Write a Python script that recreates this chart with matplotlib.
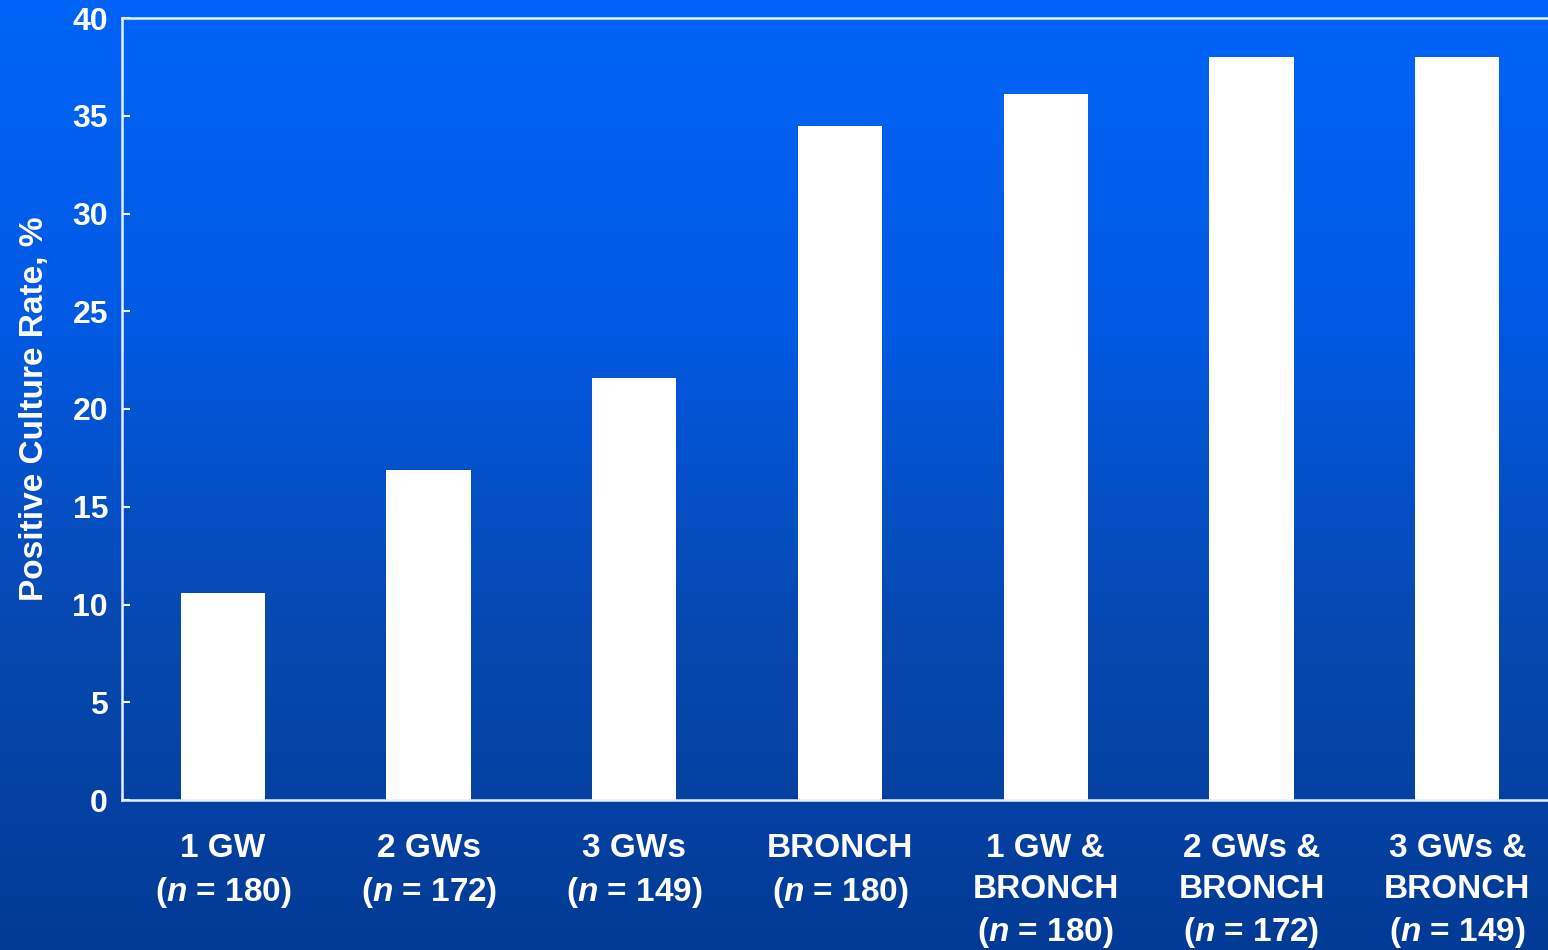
import matplotlib
matplotlib.use("Agg")
import matplotlib.pyplot as plt
import numpy as np
from matplotlib.colors import LinearSegmentedColormap

plt.rcParams['font.family'] = ['Liberation Sans', 'DejaVu Sans']
plt.rcParams['mathtext.fontset'] = 'custom'
plt.rcParams['mathtext.rm'] = 'Liberation Sans:bold'
plt.rcParams['mathtext.it'] = 'Liberation Sans:italic:bold'

groups = ["1 GW\n($\\mathit{n}$ = 180)",
          "2 GWs\n($\\mathit{n}$ = 172)",
          "3 GWs\n($\\mathit{n}$ = 149)",
          "BRONCH\n($\\mathit{n}$ = 180)",
          "1 GW &\nBRONCH\n($\\mathit{n}$ = 180)",
          "2 GWs &\nBRONCH\n($\\mathit{n}$ = 172)",
          "3 GWs &\nBRONCH\n($\\mathit{n}$ = 149)"]
rates = [10.6, 16.9, 21.6, 34.5, 36.1, 38.0, 38.0]
yticks = [0, 5, 10, 15, 20, 25, 30, 35, 40]

fig = plt.figure(figsize=(15.48, 9.5), dpi=100)

# blue gradient background
bg = fig.add_axes([0, 0, 1, 1])
cmap = LinearSegmentedColormap.from_list(
    "bgblue", ["#0064F8", "#005AE4", "#0748B0", "#023B96"])
grad = np.linspace(0, 1, 256).reshape(-1, 1)
bg.imshow(grad, aspect='auto', cmap=cmap, extent=[0, 1, 1, 0])
bg.axis('off')

ax = fig.add_axes([122 / 1548, 150 / 950, 1436 / 1548, 782 / 950])
ax.set_facecolor('none')
x = np.arange(len(groups))
ax.bar(x, rates, width=0.41, color='white', edgecolor='none')

ax.set_xlim(-0.49, 6.49)
ax.set_ylim(0, 40)
ax.set_yticks(yticks)
ax.set_xticks(x)
ax.set_xticklabels(groups, fontsize=24, fontweight='bold', color='white',
                   linespacing=1.4, va='top')
ax.tick_params(axis='x', length=0, pad=24)
ax.tick_params(axis='y', direction='in', length=6, width=1.5, color='white',
               labelsize=23, labelcolor='white', pad=10)
for lab in ax.get_yticklabels():
    lab.set_fontweight('bold')
for s in ['left', 'bottom', 'top', 'right']:
    ax.spines[s].set_color('#E8EEFF')
    ax.spines[s].set_linewidth(1.8)

ax.set_ylabel("Positive Culture Rate, %", fontsize=24, fontweight='bold',
              color='white', labelpad=16)

fig.savefig("out.png", dpi=100)
